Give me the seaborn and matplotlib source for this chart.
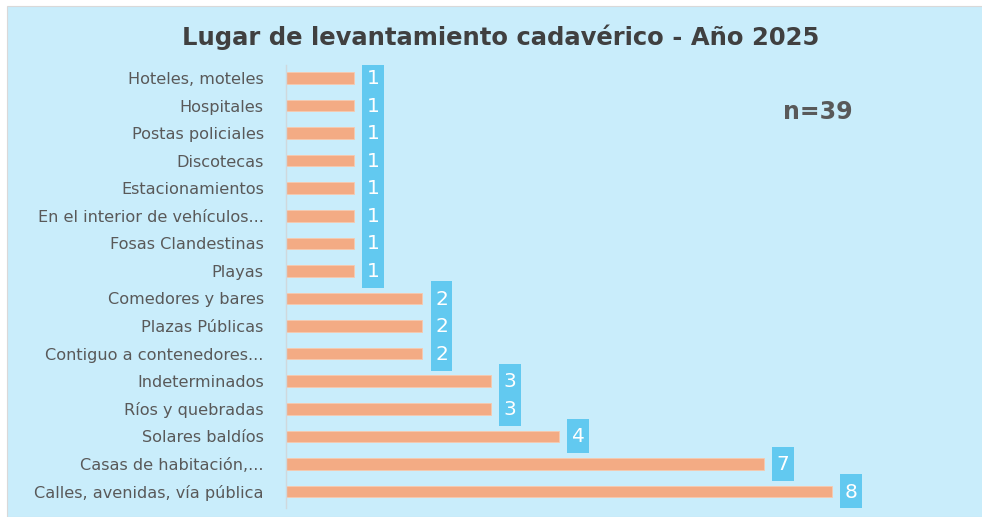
import seaborn as sns
import matplotlib.pyplot as plt
import pandas as pd
from matplotlib.patches import Rectangle

lugares = [
    "Hoteles, moteles", "Hospitales", "Postas policiales", "Discotecas",
    "Estacionamientos", "En el interior de vehículos...", "Fosas Clandestinas",
    "Playas", "Comedores y bares", "Plazas Públicas",
    "Contiguo a contenedores...", "Indeterminados", "Ríos y quebradas",
    "Solares baldíos", "Casas de habitación,...", "Calles, avenidas, vía pública",
]
casos = [1, 1, 1, 1, 1, 1, 1, 1, 2, 2, 2, 3, 3, 4, 7, 8]

df = pd.DataFrame({"Lugar": lugares, "Casos": casos})

fondo = "#C9EDFB"
gris = "#595959"

sns.set_style("white")
plt.rcParams["font.family"] = ["DejaVu Sans"]

fig = plt.figure(figsize=(9.82, 5.17), dpi=100, facecolor="white")
fig.patches.append(Rectangle((7 / 982, 0), 1, 511 / 517, transform=fig.transFigure,
                             facecolor=fondo, edgecolor="#D9D9D9", lw=0.8, zorder=-1))
ax = fig.add_axes([286 / 982, 9 / 517, 614 / 982, 443 / 517])
ax.set_facecolor("none")

sns.barplot(data=df, x="Casos", y="Lugar", orient="h", color="#F3AB84",
            width=0.42, ax=ax, saturation=1, edgecolor="#F8C9AE", linewidth=0.6)

for i, v in enumerate(casos):
    ax.add_patch(Rectangle((v + 0.12, i - 0.62), 0.32, 1.24,
                           facecolor="#62C9F0", edgecolor="none", zorder=3))
    ax.text(v + 0.28, i + 0.02, str(v), color="white", fontsize=14.5,
            ha="center", va="center", zorder=4)

ax.set_xlim(0, 9)
ax.set_ylim(15.6, -0.47)
ax.set_xticks([])
ax.set_xlabel("")
ax.set_ylabel("")
ax.tick_params(axis="y", length=0, pad=16, labelsize=11.6, labelcolor=gris)
for s in ["top", "right", "bottom"]:
    ax.spines[s].set_visible(False)
ax.spines["left"].set_color("#D0D8DC")
ax.spines["left"].set_linewidth(1)

fig.text(501 / 982, 1 - 37 / 517, "Lugar de levantamiento cadavérico - Año 2025",
         ha="center", va="center", fontsize=17.5, fontweight="bold", color="#404040")
fig.text(818 / 982, 1 - 112 / 517, "n=39", ha="center", va="center",
         fontsize=17, fontweight="bold", color=gris)

fig.savefig("out.png", dpi=100, facecolor="white")
